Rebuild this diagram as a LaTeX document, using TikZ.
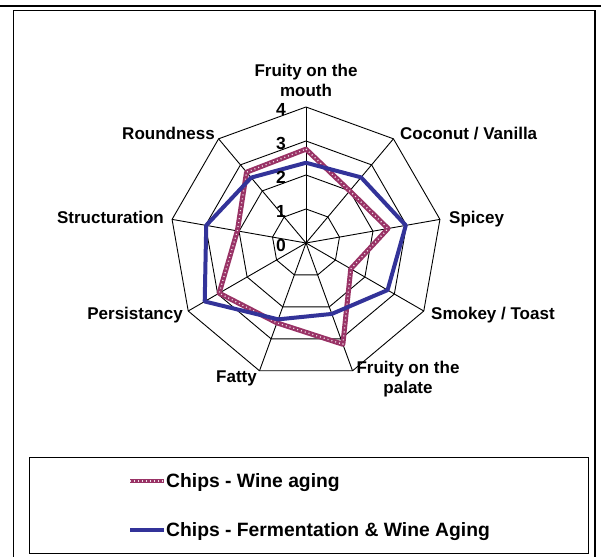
\documentclass[tikz,border=0pt]{standalone}
\usepackage{fontspec}
\setmainfont{Liberation Sans}
\usetikzlibrary{positioning}
\definecolor{winecol}{HTML}{993366}
\definecolor{fermcol}{HTML}{333399}

\begin{document}
\begin{tikzpicture}[x=1pt,y=1pt,
  axlabel/.style={font=\fontsize{17}{20}\selectfont\bfseries,inner sep=0pt},
  ticklabel/.style={font=\fontsize{17.5}{20}\selectfont\bfseries,anchor=east,inner sep=0pt},
  legtext/.style={font=\fontsize{19.3}{22}\selectfont\bfseries,anchor=base west,inner sep=0pt},
  gridline/.style={black,line width=0.9pt},
  wineline/.style={winecol,line width=5pt,line join=round},
  winedots/.style={white!85!winecol,line width=1.3pt,dash pattern=on 1pt off 3pt,line join=round},
  fermline/.style={fermcol,line width=4pt,line join=round}]
  \useasboundingbox (0,0) rectangle (601,556);
  % page rule and chart frame
  \draw[line width=2pt] (0,549.5) -- (601,549.5);
  \draw[line width=1.2pt] (13.5,-2) -- (13.5,545.3) -- (595,545.3) -- (595,-2);

  \begin{scope}[shift={(306,313)}]
    % rings and spokes (34pt per unit)
    \foreach \r in {1,...,4}
      \draw[gridline] (90:{\r*34}) \foreach \k in {1,...,8} { -- (90-\k*40:{\r*34}) } -- cycle;
    \foreach \k in {0,...,8}
      \draw[gridline] (0,0) -- (90-\k*40:136) coordinate (v\k);

    % Chips - Wine aging
    \draw[wineline] (90:2.76*34) -- (50:2.0*34) -- (10:2.45*34) -- (-30:1.52*34)
      -- (-70:3.17*34) -- (-110:2.5*34) -- (-150:2.95*34) -- (170:2.05*34)
      -- (130:2.72*34) -- cycle;
    \draw[winedots] (90:2.76*34) -- (50:2.0*34) -- (10:2.45*34) -- (-30:1.52*34)
      -- (-70:3.17*34) -- (-110:2.5*34) -- (-150:2.95*34) -- (170:2.05*34)
      -- (130:2.72*34) -- cycle;
    % Chips - Fermentation & Wine Aging
    \draw[fermline] (90:2.36*34) -- (50:2.52*34) -- (10:2.98*34) -- (-30:2.77*34)
      -- (-70:2.22*34) -- (-110:2.39*34) -- (-150:3.44*34) -- (170:2.98*34)
      -- (130:2.51*34) -- cycle;

    % scale
    \foreach \r in {0,...,4}
      \node[ticklabel] (tick\r) at (-20,{\r*34-2}) {\r};

    % category labels
    \node[axlabel,align=center,anchor=south] (mouth) at (0,146) {Fruity on the\\mouth};
    \node[axlabel,anchor=base west] (coconut) at (94,103) {Coconut / Vanilla};
    \node[axlabel,anchor=base west] (spicey) at (143,19) {Spicey};
    \node[axlabel,anchor=base west] (smokey) at (125,-77) {Smokey / Toast};
    \node[axlabel,align=center,anchor=north] (palate) at (102,-118) {Fruity on the\\palate};
    \node[axlabel,anchor=base east] (fatty) at (-49,-140) {Fatty};
    \node[axlabel,anchor=base east] (persist) at (-123,-77) {Persistancy};
    \node[axlabel,anchor=base east] (struct) at (-142,19) {Structuration};
    \node[axlabel,anchor=base east] (round) at (-91,103) {Roundness};
  \end{scope}

  % legend
  \draw[line width=0.9pt] (29,3) rectangle (588,99);
  \draw[wineline,line width=3.6pt] (130,75) -- (164,75);
  \draw[winedots,line width=1pt] (130,75) -- (164,75);
  \draw[fermline] (130,26) -- (164,26);
  \node[legtext] (legwine) at (166,68) {Chips - Wine aging};
  \node[legtext] (legferm) at (166,19.5) {Chips - Fermentation \& Wine Aging};
\end{tikzpicture}
\end{document}
